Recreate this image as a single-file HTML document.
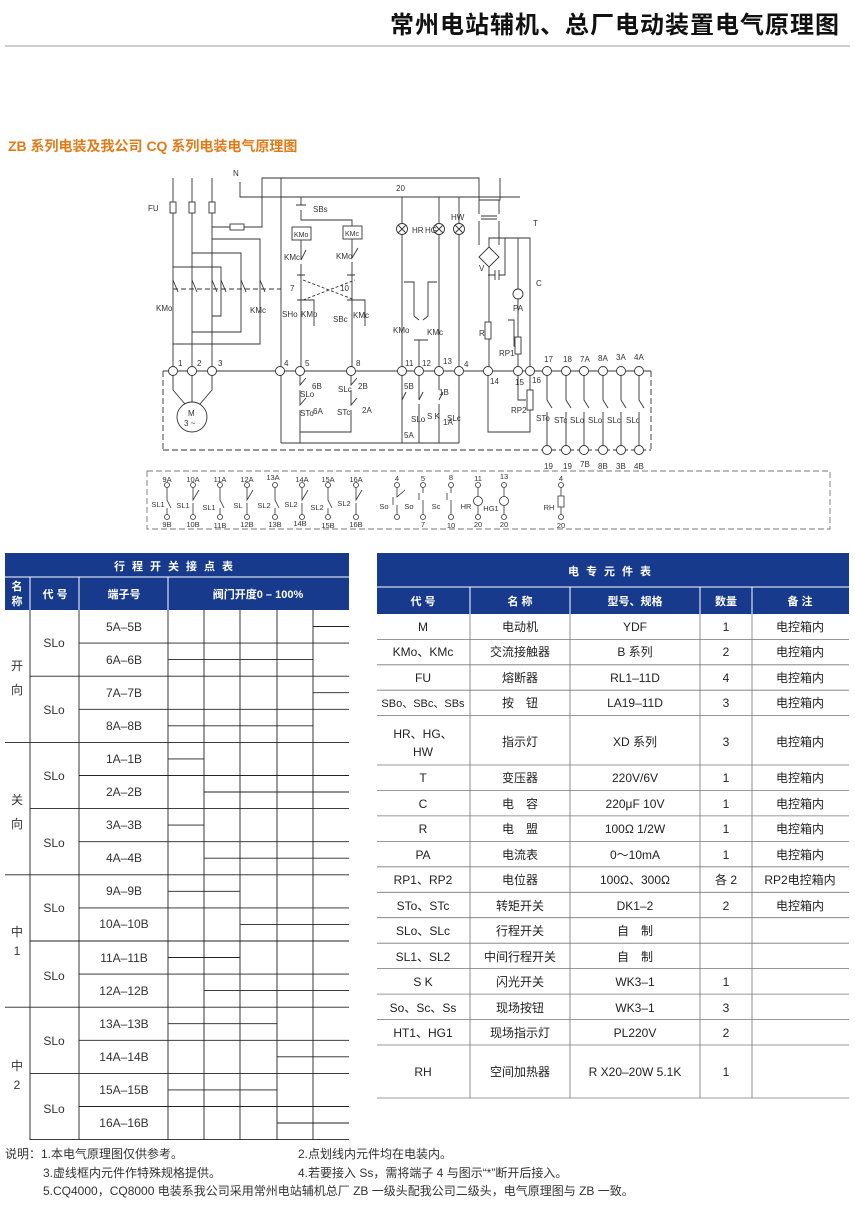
<!DOCTYPE html>
<html><head><meta charset="utf-8"><style>
html,body{margin:0;padding:0;background:#fff;}
svg{display:block;font-family:"Liberation Sans","Noto Sans CJK SC",sans-serif;}
</style></head><body>
<svg width="855" height="1210" viewBox="0 0 855 1210" xmlns="http://www.w3.org/2000/svg">
<!-- Header -->
<text x="840" y="33" font-size="24" font-weight="bold" text-anchor="end" fill="#111" letter-spacing="1">常州电站辅机、总厂电动装置电气原理图</text>
<line x1="5" y1="46" x2="850" y2="46" stroke="#999" stroke-width="1"/>
<text x="8" y="151" font-size="14" font-weight="bold" fill="#e07b1a">ZB 系列电装及我公司 CQ 系列电装电气原理图</text>

<!-- Schematic -->
<g stroke="#333" stroke-width="0.9" fill="none">
 <line x1="173" y1="178" x2="173" y2="371"/><line x1="192" y1="178" x2="192" y2="371"/><line x1="212" y1="178" x2="212" y2="371"/>
 <rect x="170" y="202" width="6" height="11" fill="#fff"/><rect x="189" y="202" width="6" height="11" fill="#fff"/><rect x="209" y="202" width="6" height="11" fill="#fff"/>
 <path d="M212 227 H262 V178 H479 V200"/>
 <rect x="230" y="224" width="14" height="6" fill="#fff"/>
 <path d="M240 182 V197 H520"/>
 <path d="M212 239 H260 V344 H173"/>
 <path d="M192 253 H241 V332 H192"/>
 <path d="M173 267 H221 V316 H212"/>
 <line x1="173" y1="280" x2="178" y2="292" /><line x1="192" y1="280" x2="197" y2="292"/><line x1="212" y1="280" x2="217" y2="292"/>
 <line x1="221" y1="280" x2="226" y2="292"/><line x1="241" y1="280" x2="246" y2="292"/><line x1="260" y1="280" x2="265" y2="292"/>
 <line x1="173" y1="289" x2="281" y2="289" stroke-dasharray="5,3"/>
 <line x1="281" y1="178" x2="281" y2="443"/>
 <path d="M301 197 V205 M296 205 H306 M301 210 V220 H352 V226"/>
 <rect x="292" y="227" width="19" height="13" fill="#fff"/><rect x="343" y="226" width="19" height="13" fill="#fff"/>
 <path d="M301 240 V260 L306 250 M301 264 V371"/>
 <path d="M352 239 V258 L358 248 M352 262 V371"/>
 <path d="M297 275 H305 M297 300 H305 M347 275 H355 M347 300 H355"/>
 <path d="M301 300 H314 V326 M352 300 H365 V326" />
 <line x1="303" y1="300" x2="355" y2="280" stroke-dasharray="3,2"/><line x1="303" y1="280" x2="355" y2="300" stroke-dasharray="3,2"/>
 <path d="M300 371 V385 L306 378 M300 390 V405 L306 398 M300 410 V443"/>
 <path d="M351 371 V385 L357 378 M351 390 V405 L357 398 M351 410 V432 H300"/>
 <line x1="281" y1="443" x2="459" y2="443"/>
 <line x1="402" y1="197" x2="402" y2="443"/><line x1="439" y1="197" x2="439" y2="371"/><line x1="459" y1="197" x2="459" y2="443"/>
 <circle cx="402" cy="229" r="5.5" fill="#fff"/><circle cx="439" cy="229" r="5.5" fill="#fff"/><circle cx="459" cy="229" r="5.5" fill="#fff"/>
 <path d="M398 225 l8 8 M406 225 l-8 8 M435 225 l8 8 M443 225 l-8 8 M455 225 l8 8 M463 225 l-8 8"/>
 <path d="M404 282 H414 V316 L419 320 M419 340 V371 M437 282 H428 V316 L423 320 M414 340 H428"/>
 <path d="M419 371 V400 M439 371 V390 M402 400 l4 -8 M419 400 l4 -8 M439 400 l4 -8 M439 404 V443 M419 404 V443"/>
 <path d="M479 200 H500 V178" />
 <path d="M479 200 V214 M499 200 V214 M481 216 H497 M481 219 H497 M479 221 V245 M499 221 V245"/>
 <path d="M489 247 L499 257 L489 267 L479 257 Z"/>
 <path d="M489 247 V238 H530 V371 M489 267 V371"/>
 <path d="M488 275 H495 M495 270 V280 M499 270 V280 M499 275 H505 V238"/>
 <rect x="485" y="322" width="6" height="17" fill="#fff"/>
 <path d="M518 238 V289"/><circle cx="518" cy="294" r="5" fill="#fff"/>
 <path d="M518 299 V371 M508 320 H514 V346 H518"/>
 <rect x="515" y="337" width="6" height="17" fill="#fff"/>
 <path d="M488 371 V432 H530 V371"/>
 <path d="M518 371 V400 H526"/><rect x="527" y="390" width="6" height="20" fill="#fff"/>
 <line x1="163" y1="371" x2="651" y2="371"/>
 <line x1="163" y1="371" x2="163" y2="450" stroke-dasharray="6,3"/>
 <line x1="163" y1="450" x2="651" y2="450" stroke-dasharray="6,3"/>
 <line x1="651" y1="371" x2="651" y2="450" stroke-dasharray="6,3"/>
 <path d="M547 371 V400 L552 408 M547 412 V450 M566 371 V400 L571 408 M566 412 V450 M584 371 V400 L589 408 M584 412 V450 M603 371 V400 L608 408 M603 412 V450 M621 371 V400 L626 408 M621 412 V450 M639 371 V400 L644 408 M639 412 V450"/>
 <path d="M173 371 V390 L185 404 M192 371 V402 M212 371 V390 L200 404"/>
 <circle cx="192" cy="417" r="15" fill="#fff"/>
 <g fill="#fff">
 <circle cx="173" cy="371" r="4.5"/><circle cx="192" cy="371" r="4.5"/><circle cx="212" cy="371" r="4.5"/><circle cx="280" cy="371" r="4.5"/><circle cx="300" cy="371" r="4.5"/><circle cx="351" cy="371" r="4.5"/><circle cx="402" cy="371" r="4.5"/><circle cx="419" cy="371" r="4.5"/><circle cx="439" cy="371" r="4.5"/><circle cx="459" cy="371" r="4.5"/><circle cx="488" cy="371" r="4.5"/><circle cx="518" cy="371" r="4.5"/><circle cx="530" cy="371" r="4.5"/><circle cx="547" cy="371" r="4.5"/><circle cx="566" cy="371" r="4.5"/><circle cx="584" cy="371" r="4.5"/><circle cx="603" cy="371" r="4.5"/><circle cx="621" cy="371" r="4.5"/><circle cx="639" cy="371" r="4.5"/>
 <circle cx="547" cy="450" r="4.5"/><circle cx="566" cy="450" r="4.5"/><circle cx="584" cy="450" r="4.5"/><circle cx="603" cy="450" r="4.5"/><circle cx="621" cy="450" r="4.5"/><circle cx="639" cy="450" r="4.5"/>
 </g>
</g>
<g font-size="8" fill="#333">
 <text x="148" y="211">FU</text><text x="233" y="176">N</text><text x="396" y="191">20</text>
 <text x="313" y="212">SBs</text><text x="294" y="237" font-size="7">KMo</text><text x="345" y="236" font-size="7">KMc</text>
 <text x="284" y="260">KMc</text><text x="336" y="259">KMo</text><text x="290" y="291">7</text><text x="340" y="291">10</text>
 <text x="282" y="317">SHo</text><text x="301" y="317">KMo</text><text x="333" y="322">SBc</text><text x="353" y="318">KMc</text>
 <text x="156" y="311">KMo</text><text x="250" y="313">KMc</text>
 <text x="412" y="233">HR</text><text x="425" y="233">HG</text><text x="451" y="220">HW</text>
 <text x="393" y="333">KMo</text><text x="427" y="335">KMc</text>
 <text x="533" y="226">T</text><text x="479" y="271">V</text><text x="536" y="286">C</text><text x="513" y="311">PA</text>
 <text x="479" y="336">R</text><text x="499" y="356">RP1</text><text x="511" y="413">RP2</text>
 <text x="178" y="366">1</text><text x="197" y="366">2</text><text x="218" y="366">3</text><text x="284" y="366">4</text><text x="305" y="366">5</text><text x="356" y="366">8</text>
 <text x="405" y="366">11</text><text x="422" y="366">12</text><text x="443" y="364">13</text><text x="464" y="367">4</text>
 <text x="490" y="384">14</text><text x="515" y="385">15</text><text x="532" y="383">16</text>
 <text x="544" y="362">17</text><text x="563" y="362">18</text><text x="580" y="362">7A</text><text x="598" y="361">8A</text><text x="616" y="360">3A</text><text x="634" y="360">4A</text>
 <text x="544" y="469">19</text><text x="563" y="469">19</text><text x="580" y="467">7B</text><text x="598" y="469">8B</text><text x="616" y="469">3B</text><text x="634" y="469">4B</text>
 <text x="188" y="416">M</text><text x="184" y="426">3 ~</text>
 <text x="312" y="389">6B</text><text x="300" y="397">SLo</text><text x="313" y="414">6A</text><text x="300" y="416">STo</text>
 <text x="358" y="389">2B</text><text x="338" y="392">SLc</text><text x="362" y="413">2A</text><text x="337" y="415">STc</text>
 <text x="404" y="389">5B</text><text x="439" y="395">1B</text><text x="411" y="422">SLo</text><text x="427" y="419">S K</text><text x="447" y="421">SLc</text><text x="443" y="425">1A</text><text x="404" y="438">5A</text>
 <text x="536" y="421">STo</text><text x="554" y="423">STc</text><text x="570" y="423">SLo</text><text x="588" y="423">SLo</text><text x="607" y="423">SLc</text><text x="626" y="423">SLc</text>
</g>

<!-- bottom strip -->
<rect x="147" y="471" width="683" height="58" fill="none" stroke="#777" stroke-width="0.9" stroke-dasharray="6,3"/>
<g stroke="#333" stroke-width="0.8" fill="#fff">
 <path d="M167 487 V500 L171 508 M167 508 V515 M193 487 V500 L199 490 M193 503 V515 M220 487 V500 L224 508 M220 508 V515 M247 487 V500 L253 490 M247 503 V515 M275 487 V500 L279 508 M275 508 V515 M302 487 V500 L308 490 M302 503 V515 M328 487 V500 L332 508 M328 508 V515 M356 487 V500 L362 490 M356 503 V515 M397 487 V497 L405 490 M397 505 V515 M393 497 V505 M423 487 V493 M423 500 V515 M419 493 V500 M451 487 V493 M451 500 V515 M447 493 V500 M478 487 V515 M504 487 V515 M561 487 V515" fill="none"/>
 <g>
 <circle cx="167" cy="485" r="2.5"/><circle cx="193" cy="485" r="2.5"/><circle cx="220" cy="485" r="2.5"/><circle cx="247" cy="485" r="2.5"/><circle cx="275" cy="485" r="2.5"/><circle cx="302" cy="485" r="2.5"/><circle cx="328" cy="485" r="2.5"/><circle cx="356" cy="485" r="2.5"/><circle cx="397" cy="485" r="2.5"/><circle cx="423" cy="485" r="2.5"/><circle cx="451" cy="485" r="2.5"/><circle cx="478" cy="485" r="2.5"/><circle cx="504" cy="485" r="2.5"/><circle cx="561" cy="485" r="2.5"/>
 <circle cx="167" cy="517" r="2.5"/><circle cx="193" cy="517" r="2.5"/><circle cx="220" cy="517" r="2.5"/><circle cx="247" cy="517" r="2.5"/><circle cx="275" cy="517" r="2.5"/><circle cx="302" cy="517" r="2.5"/><circle cx="328" cy="517" r="2.5"/><circle cx="356" cy="517" r="2.5"/><circle cx="397" cy="517" r="2.5"/><circle cx="423" cy="517" r="2.5"/><circle cx="451" cy="517" r="2.5"/><circle cx="478" cy="517" r="2.5"/><circle cx="504" cy="517" r="2.5"/><circle cx="561" cy="517" r="2.5"/>
 <circle cx="478" cy="501" r="4.5"/><circle cx="504" cy="501" r="4.5"/><rect x="558" y="496" width="6" height="11"/>
 </g>
</g>
<g font-size="7.5" fill="#333" text-anchor="middle">
 <text x="167" y="482">9A</text><text x="193" y="482">10A</text><text x="220" y="482">11A</text><text x="247" y="482">12A</text><text x="273" y="480">13A</text><text x="302" y="482">14A</text><text x="328" y="482">15A</text><text x="356" y="482">16A</text><text x="397" y="481">4</text><text x="423" y="481">5</text><text x="451" y="480">8</text><text x="478" y="481">11</text><text x="504" y="479">13</text><text x="561" y="481">4</text>
 <text x="167" y="527">9B</text><text x="193" y="527">10B</text><text x="220" y="528">11B</text><text x="247" y="527">12B</text><text x="275" y="527">13B</text><text x="300" y="526">14B</text><text x="328" y="528">15B</text><text x="356" y="527">16B</text><text x="423" y="527">7</text><text x="451" y="528">10</text><text x="478" y="527">20</text><text x="504" y="527">20</text><text x="561" y="528">20</text>
 <text x="158" y="507">SL1</text><text x="183" y="508">SL1</text><text x="209" y="510">SL1</text><text x="238" y="508">SL</text><text x="264" y="508">SL2</text><text x="291" y="507">SL2</text><text x="317" y="510">SL2</text><text x="344" y="506">SL2</text><text x="384" y="509">So</text><text x="409" y="509">So</text><text x="436" y="509">Sc</text><text x="466" y="509">HR</text><text x="491" y="511">HG1</text><text x="549" y="510">RH</text>
</g>

<!-- Left table -->
<rect x="5" y="553" width="344" height="57" fill="#173a8c"/>
<line x1="5" y1="577" x2="349" y2="577" stroke="#fff" stroke-width="1"/>
<g stroke="#fff" stroke-width="1"><line x1="30" y1="577" x2="30" y2="610"/><line x1="79" y1="577" x2="79" y2="610"/><line x1="168" y1="577" x2="168" y2="610"/></g>
<g fill="#fff" font-weight="bold" font-size="11" text-anchor="middle">
 <text x="177" y="570" letter-spacing="7">行程开关接点表</text>
 <text x="17" y="590">名</text><text x="17" y="605">称</text>
 <text x="55" y="598">代 号</text><text x="124" y="598">端子号</text><text x="258" y="598">阀门开度0 – 100%</text>
</g>
<g stroke="#222" stroke-width="0.9">
 <line x1="30" y1="610" x2="30" y2="1140"/><line x1="79" y1="610" x2="79" y2="1140"/>
 <line x1="168" y1="610" x2="168" y2="1140"/><line x1="204" y1="610" x2="204" y2="1140"/><line x1="240" y1="610" x2="240" y2="1140"/><line x1="277" y1="610" x2="277" y2="1140"/><line x1="313" y1="610" x2="313" y2="1140"/>
 <line x1="79" y1="643.1" x2="349" y2="643.1"/><line x1="30" y1="676.2" x2="349" y2="676.2"/><line x1="79" y1="709.3" x2="349" y2="709.3"/><line x1="5" y1="742.4" x2="349" y2="742.4"/>
 <line x1="79" y1="775.5" x2="349" y2="775.5"/><line x1="30" y1="808.6" x2="349" y2="808.6"/><line x1="79" y1="841.7" x2="349" y2="841.7"/><line x1="5" y1="874.8" x2="349" y2="874.8"/>
 <line x1="79" y1="907.9" x2="349" y2="907.9"/><line x1="30" y1="941" x2="349" y2="941"/><line x1="79" y1="974.1" x2="349" y2="974.1"/><line x1="5" y1="1007.2" x2="349" y2="1007.2"/>
 <line x1="79" y1="1040.3" x2="349" y2="1040.3"/><line x1="30" y1="1073.4" x2="349" y2="1073.4"/><line x1="79" y1="1106.5" x2="349" y2="1106.5"/><line x1="30" y1="1139.6" x2="349" y2="1139.6"/>
 <line x1="313" y1="626.5" x2="349" y2="626.5"/><line x1="168" y1="659.6" x2="313" y2="659.6"/>
 <line x1="313" y1="692.7" x2="349" y2="692.7"/><line x1="168" y1="725.8" x2="313" y2="725.8"/>
 <line x1="168" y1="758.9" x2="204" y2="758.9"/><line x1="204" y1="792" x2="349" y2="792"/>
 <line x1="168" y1="825.1" x2="204" y2="825.1"/><line x1="204" y1="858.2" x2="349" y2="858.2"/>
 <line x1="168" y1="891.3" x2="240" y2="891.3"/><line x1="240" y1="924.4" x2="349" y2="924.4"/>
 <line x1="168" y1="957.5" x2="240" y2="957.5"/><line x1="204" y1="990.6" x2="349" y2="990.6"/>
 <line x1="168" y1="1023.7" x2="277" y2="1023.7"/><line x1="277" y1="1056.8" x2="349" y2="1056.8"/>
 <line x1="168" y1="1089.9" x2="277" y2="1089.9"/><line x1="277" y1="1123" x2="349" y2="1123"/>
</g>
<g font-size="12" fill="#333" text-anchor="middle">
 <text x="124" y="631">5A–5B</text><text x="124" y="664">6A–6B</text><text x="124" y="697">7A–7B</text><text x="124" y="730">8A–8B</text>
 <text x="124" y="763">1A–1B</text><text x="124" y="796">2A–2B</text><text x="124" y="829">3A–3B</text><text x="124" y="862">4A–4B</text>
 <text x="124" y="895">9A–9B</text><text x="124" y="928">10A–10B</text><text x="124" y="962">11A–11B</text><text x="124" y="995">12A–12B</text>
 <text x="124" y="1028">13A–13B</text><text x="124" y="1061">14A–14B</text><text x="124" y="1094">15A–15B</text><text x="124" y="1127">16A–16B</text>
 <text x="54" y="647">SLo</text><text x="54" y="714">SLo</text><text x="54" y="780">SLo</text><text x="54" y="847">SLo</text>
 <text x="54" y="912">SLo</text><text x="54" y="980">SLo</text><text x="54" y="1045">SLo</text><text x="54" y="1113">SLo</text>
 <text x="17" y="670">开</text><text x="17" y="694">向</text><text x="17" y="804">关</text><text x="17" y="828">向</text>
 <text x="17" y="936">中</text><text x="17" y="955">1</text><text x="17" y="1070">中</text><text x="17" y="1089">2</text>
</g>

<!-- Right table -->
<rect x="377" y="553" width="472" height="61" fill="#173a8c"/>
<line x1="377" y1="587" x2="849" y2="587" stroke="#fff"/>
<g stroke="#fff"><line x1="470" y1="587" x2="470" y2="614"/><line x1="570" y1="587" x2="570" y2="614"/><line x1="700" y1="587" x2="700" y2="614"/><line x1="752" y1="587" x2="752" y2="614"/></g>
<g fill="#fff" font-weight="bold" font-size="11" text-anchor="middle">
 <text x="613" y="575" letter-spacing="7">电专元件表</text>
 <text x="423" y="605">代 号</text><text x="520" y="605">名 称</text><text x="635" y="605">型号、规格</text><text x="726" y="605">数量</text><text x="800" y="605">备 注</text>
</g>
<g stroke="#777" stroke-width="0.8">
 <line x1="377" y1="639.4" x2="849" y2="639.4"/><line x1="377" y1="664.8" x2="849" y2="664.8"/><line x1="377" y1="690.2" x2="849" y2="690.2"/><line x1="377" y1="715.6" x2="849" y2="715.6"/><line x1="377" y1="765" x2="849" y2="765"/>
 <line x1="377" y1="790.5" x2="849" y2="790.5"/><line x1="377" y1="815.9" x2="849" y2="815.9"/><line x1="377" y1="841.4" x2="849" y2="841.4"/><line x1="377" y1="866.8" x2="849" y2="866.8"/><line x1="377" y1="892.3" x2="849" y2="892.3"/><line x1="377" y1="917.7" x2="849" y2="917.7"/><line x1="377" y1="943.2" x2="849" y2="943.2"/><line x1="377" y1="968.6" x2="849" y2="968.6"/><line x1="377" y1="994.1" x2="849" y2="994.1"/><line x1="377" y1="1019.5" x2="849" y2="1019.5"/><line x1="377" y1="1045" x2="849" y2="1045"/><line x1="377" y1="1098" x2="849" y2="1098"/>
 <line x1="470" y1="614" x2="470" y2="1098"/><line x1="570" y1="614" x2="570" y2="1098"/><line x1="700" y1="614" x2="700" y2="1098"/><line x1="752" y1="614" x2="752" y2="1098"/>
</g>
<g font-size="12" fill="#222" text-anchor="middle">
 <g transform="translate(0,631)"><text x="423">M</text><text x="520">电动机</text><text x="635">YDF</text><text x="726">1</text><text x="800">电控箱内</text></g>
 <g transform="translate(0,656)"><text x="423">KMo、KMc</text><text x="520">交流接触器</text><text x="635">B 系列</text><text x="726">2</text><text x="800">电控箱内</text></g>
 <g transform="translate(0,682)"><text x="423">FU</text><text x="520">熔断器</text><text x="635">RL1–11D</text><text x="726">4</text><text x="800">电控箱内</text></g>
 <g transform="translate(0,707)"><text x="423" font-size="11">SBo、SBc、SBs</text><text x="520">按　钮</text><text x="635">LA19–11D</text><text x="726">3</text><text x="800">电控箱内</text></g>
 <g transform="translate(0,746)"><text x="423" y="-8">HR、HG、</text><text x="423" y="10">HW</text><text x="520">指示灯</text><text x="635">XD 系列</text><text x="726">3</text><text x="800">电控箱内</text></g>
 <g transform="translate(0,782)"><text x="423">T</text><text x="520">变压器</text><text x="635">220V/6V</text><text x="726">1</text><text x="800">电控箱内</text></g>
 <g transform="translate(0,808)"><text x="423">C</text><text x="520">电　容</text><text x="635">220μF 10V</text><text x="726">1</text><text x="800">电控箱内</text></g>
 <g transform="translate(0,833)"><text x="423">R</text><text x="520">电　盟</text><text x="635">100Ω  1/2W</text><text x="726">1</text><text x="800">电控箱内</text></g>
 <g transform="translate(0,859)"><text x="423">PA</text><text x="520">电流表</text><text x="635">0～10mA</text><text x="726">1</text><text x="800">电控箱内</text></g>
 <g transform="translate(0,884)"><text x="423">RP1、RP2</text><text x="520">电位器</text><text x="635">100Ω、300Ω</text><text x="726">各 2</text><text x="800">RP2电控箱内</text></g>
 <g transform="translate(0,910)"><text x="423">STo、STc</text><text x="520">转矩开关</text><text x="635">DK1–2</text><text x="726">2</text><text x="800">电控箱内</text></g>
 <g transform="translate(0,935)"><text x="423">SLo、SLc</text><text x="520">行程开关</text><text x="635">自　制</text></g>
 <g transform="translate(0,961)"><text x="423">SL1、SL2</text><text x="520">中间行程开关</text><text x="635">自　制</text></g>
 <g transform="translate(0,986)"><text x="423">S K</text><text x="520">闪光开关</text><text x="635">WK3–1</text><text x="726">1</text></g>
 <g transform="translate(0,1012)"><text x="423">So、Sc、Ss</text><text x="520">现场按钮</text><text x="635">WK3–1</text><text x="726">3</text></g>
 <g transform="translate(0,1037)"><text x="423">HT1、HG1</text><text x="520">现场指示灯</text><text x="635">PL220V</text><text x="726">2</text></g>
 <g transform="translate(0,1076)"><text x="423">RH</text><text x="520">空间加热器</text><text x="635">R X20–20W 5.1K</text><text x="726">1</text></g>
</g>

<!-- Notes -->
<g font-size="12" fill="#333">
 <text x="5" y="1158">说明：1.本电气原理图仅供参考。</text><text x="298" y="1158">2.点划线内元件均在电装内。</text>
 <text x="43" y="1177">3.虚线框内元件作特殊规格提供。</text><text x="298" y="1177">4.若要接入 Ss，需将端子 4 与图示“*”断开后接入。</text>
 <text x="43" y="1195">5.CQ4000，CQ8000 电装系我公司采用常州电站辅机总厂 ZB 一级头配我公司二级头，电气原理图与 ZB 一致。</text>
</g>
</svg>
</body></html>
